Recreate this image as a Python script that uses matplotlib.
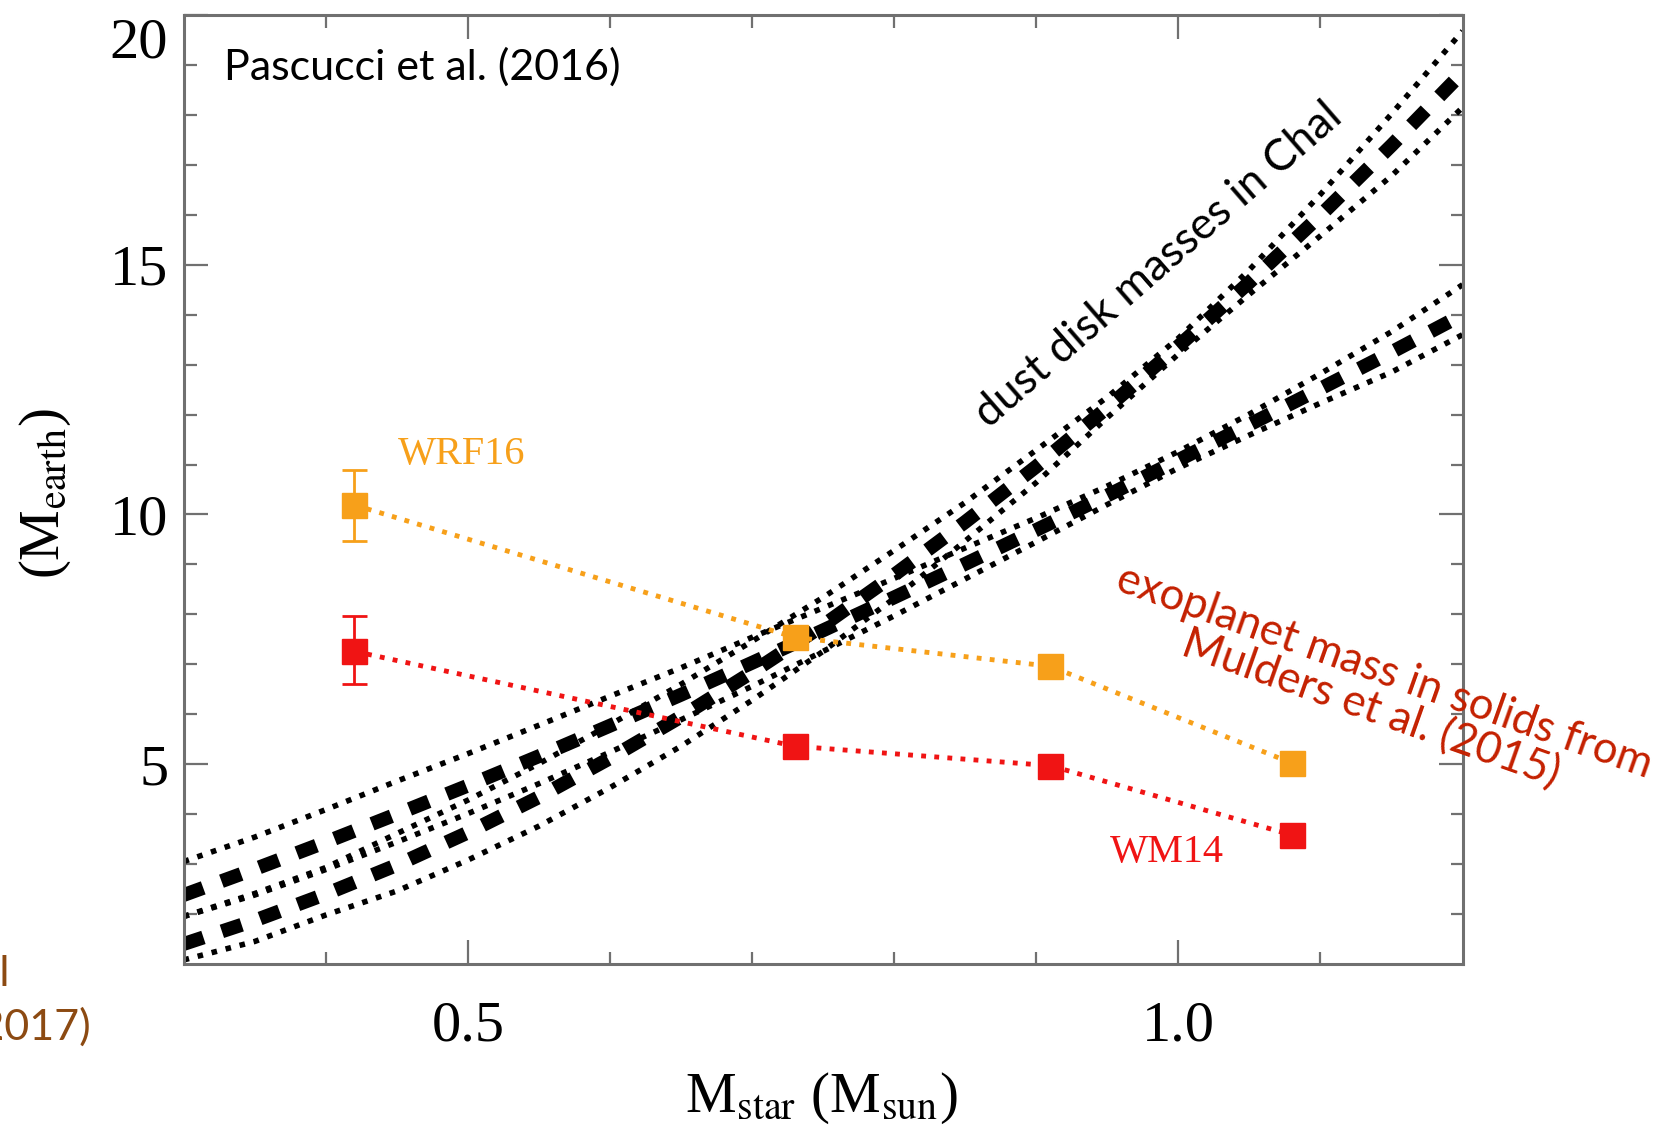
import numpy as np
import matplotlib.pyplot as plt
import matplotlib.transforms as mtransforms

plt.rcParams['font.family'] = ['Liberation Serif', 'DejaVu Serif']
plt.rcParams['mathtext.fontset'] = 'stix'

# stellar mass grid for the dust-mass relations (M_sun)
mstar = [0.30, 0.35, 0.40, 0.45, 0.50, 0.55, 0.60, 0.65, 0.70, 0.75,
         0.80, 0.85, 0.90, 0.95, 1.00, 1.05, 1.10, 1.15, 1.20]

# steep relation (dashed) with its dotted envelope
steep_mid = [1.40, 1.87, 2.40, 2.98, 3.63, 4.34, 5.12, 5.95, 6.84, 7.78,
             8.79, 9.85, 10.96, 12.14, 13.37, 14.65, 15.99, 17.39, 18.85]
steep_hi = [1.95, 2.41, 2.93, 3.61, 4.28, 5.01, 5.79, 6.60, 7.46, 8.34,
            9.28, 10.24, 11.29, 12.35, 13.53, 14.90, 16.41, 18.02, 19.68]
steep_lo = [1.08, 1.45, 1.98, 2.46, 3.08, 3.76, 4.53, 5.36, 6.28, 7.26,
            8.32, 9.47, 10.64, 11.94, 13.21, 14.41, 15.58, 16.78, 18.15]

# shallow relation (dashed) with its dotted envelope
flat_mid = [2.38, 2.90, 3.44, 4.00, 4.57, 5.16, 5.77, 6.39, 7.03, 7.68,
            8.34, 9.01, 9.69, 10.38, 11.09, 11.80, 12.52, 13.25, 14.00]
flat_hi = [3.05, 3.54, 4.09, 4.66, 5.21, 5.78, 6.36, 6.93, 7.54, 8.13,
           8.72, 9.33, 9.93, 10.57, 11.26, 12.01, 12.82, 13.66, 14.60]
flat_lo = [1.95, 2.38, 2.89, 3.44, 4.01, 4.61, 5.24, 5.89, 6.56, 7.26,
           7.97, 8.71, 9.45, 10.20, 10.93, 11.59, 12.23, 12.85, 13.60]

# exoplanet solid masses per stellar-mass bin
bins = [0.42, 0.73, 0.91, 1.08]
wrf16 = [10.19, 7.54, 6.96, 5.02]
wrf16_err_lo = [0.73, 0, 0, 0]
wrf16_err_hi = [0.71, 0, 0, 0]
wm14 = [7.26, 5.36, 4.97, 3.58]
wm14_err_lo = [0.66, 0, 0, 0]
wm14_err_hi = [0.71, 0, 0, 0]

orange = '#f7a01a'
red = '#f01414'
dark_red = '#c42000'
brown = '#8c4a12'
frame = '#707070'

fig = plt.figure(figsize=(16.74, 11.31), dpi=100)
ax = fig.add_axes([0.1097, 0.1477, 0.764, 0.839])

dash = (0, (1.5, 1.4))
dot = (0, (1, 1.6))
for mid, hi, lo in [(steep_mid, steep_hi, steep_lo), (flat_mid, flat_hi, flat_lo)]:
    ax.plot(mstar, hi, color='black', lw=4, linestyle=dot, zorder=2)
    ax.plot(mstar, lo, color='black', lw=4, linestyle=dot, zorder=2)
    ax.plot(mstar, mid, color='black', lw=10, linestyle=dash, zorder=2)

ax.plot(bins, wrf16, color=orange, lw=3.5, linestyle=(0, (1, 1.7)), zorder=3)
ax.errorbar(bins[:1], wrf16[:1], yerr=[wrf16_err_lo[:1], wrf16_err_hi[:1]],
            fmt='none', ecolor=orange, elinewidth=2, capsize=9, capthick=2, zorder=3)
ax.plot(bins, wrf16, 's', color=orange, markersize=18, zorder=4)

ax.plot(bins, wm14, color=red, lw=3.5, linestyle=(0, (1, 1.7)), zorder=3)
ax.errorbar(bins[:1], wm14[:1], yerr=[wm14_err_lo[:1], wm14_err_hi[:1]],
            fmt='none', ecolor=red, elinewidth=2, capsize=9, capthick=2, zorder=3)
ax.plot(bins, wm14, 's', color=red, markersize=18, zorder=4)

ax.set_xlim(0.3, 1.2)
ax.set_ylim(1, 20)
ax.set_xticks([0.5, 1.0])
ax.set_xticklabels(['0.5', '1.0'])
ax.set_xticks(np.arange(0.4, 1.15, 0.1), minor=True)
ax.set_yticks([5, 10, 15, 20])
ax.set_yticks(range(2, 20), minor=True)
ax.tick_params(which='both', direction='in', top=True, right=True,
               color=frame, width=1.6, labelsize=42)
ax.tick_params(which='major', length=17)
ax.tick_params(which='minor', length=9)
ax.tick_params(axis='x', pad=26)
ax.tick_params(axis='y', pad=11)
for s in ax.spines.values():
    s.set_color(frame)
    s.set_linewidth(2.2)

# top label "20" sits a little below its tick
fig.canvas.draw()
top_lab = ax.get_yticklabels()[-1]
top_lab.set_transform(top_lab.get_transform() +
                      mtransforms.ScaledTranslation(0, -16 / 72, fig.dpi_scale_trans))

fig.text(0.491, 0.017, r'M$_{\rm star}$ (M$_{\rm sun}$)', fontsize=41,
         ha='center', va='baseline')
fig.text(0.027, 0.564, r'(M$_{\rm earth}$)', fontsize=41, rotation=90,
         ha='center', va='center')

ax.text(0.451, 11.21, 'WRF16', color=orange, fontsize=29, ha='left', va='center')
ax.text(0.952, 3.24, 'WM14', color=red, fontsize=29, ha='left', va='center')

sans = ['Lato', 'DejaVu Sans']
fig.text(0.1338, 0.941, 'Pascucci et al. (2016)', fontsize=31, family=sans,
         ha='left', va='center')
fig.text(0.692, 0.766, 'dust disk masses in Chal', fontsize=32, family=sans,
         rotation=41, rotation_mode='anchor', ha='center', va='center')
fig.text(0.823, 0.389, 'exoplanet mass in solids from\nMulders et al. (2015)',
         fontsize=31.5, family=sans, color=dark_red, rotation=-19.5,
         rotation_mode='anchor', ha='center', va='center', linespacing=0.95)

# reference cut off at the left edge of the slide
fig.text(0.0054, 0.139, 'Manara et al', fontsize=31, family=sans, color=brown,
         ha='right', va='center')
fig.text(0.0545, 0.092, '(2017)', fontsize=31, family=sans, color=brown,
         ha='right', va='center')

fig.savefig('out.png', dpi=100)
